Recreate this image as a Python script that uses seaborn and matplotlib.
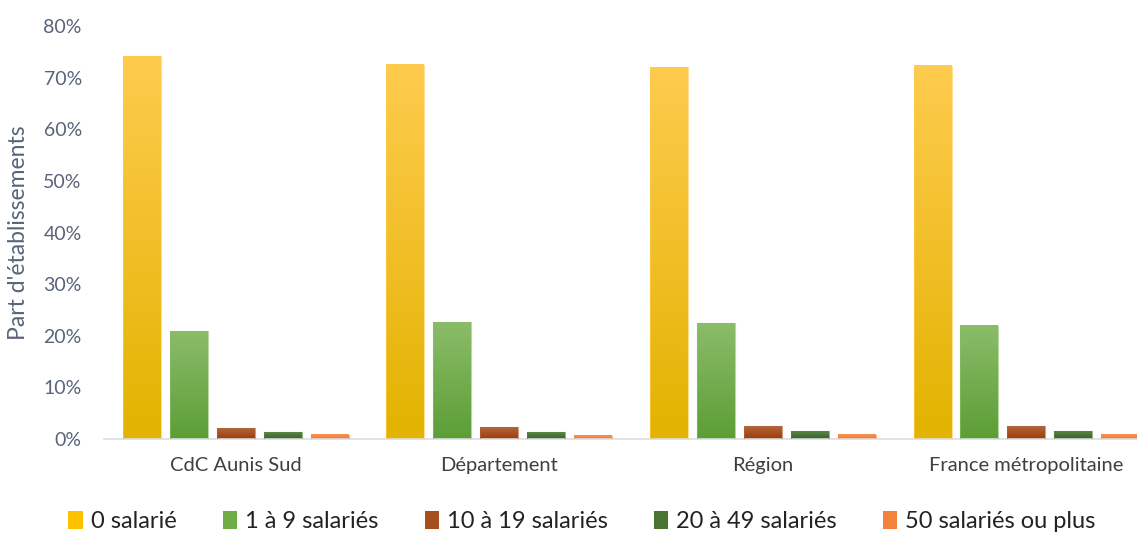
import matplotlib
matplotlib.use("Agg")
import matplotlib.pyplot as plt
import matplotlib.colors as mcolors
from matplotlib.patches import Patch
from matplotlib.ticker import PercentFormatter
import numpy as np
import pandas as pd
import seaborn as sns

# data (parts d'établissements, en fraction)
territoires = ["CdC Aunis Sud", "Département", "Région", "France métropolitaine"]
tranches = ["0 salarié", "1 à 9 salariés", "10 à 19 salariés", "20 à 49 salariés", "50 salariés ou plus"]
part_0 = [0.741, 0.725, 0.720, 0.723]
part_1_9 = [0.209, 0.226, 0.224, 0.219]
part_10_19 = [0.021, 0.023, 0.025, 0.025]
part_20_49 = [0.013, 0.013, 0.015, 0.015]
part_50 = [0.008, 0.006, 0.008, 0.008]

# gradient couleurs (haut, bas) par tranche
grad = {
    "0 salarié": ("#FFCB4E", "#E2B300"),
    "1 à 9 salariés": ("#8BBC69", "#5C9E36"),
    "10 à 19 salariés": ("#B3653C", "#9C3D08"),
    "20 à 49 salariés": ("#58844A", "#3C6224"),
    "50 salariés ou plus": ("#F79150", "#F07A30"),
}
legend_col = ["#FFC000", "#70AD47", "#A5501C", "#4A7432", "#F4823C"]

rows = []
for t, vals in zip(tranches, [part_0, part_1_9, part_10_19, part_20_49, part_50]):
    for terr, v in zip(territoires, vals):
        rows.append({"territoire": terr, "tranche": t, "part": v})
df = pd.DataFrame(rows)

sns.set_style("white")
plt.rcParams["font.family"] = ["Lato", "DejaVu Sans"]

fig = plt.figure(figsize=(11.37, 5.38), dpi=100)
ax = fig.add_axes([104 / 1137, 99 / 538, 1 - 104 / 1137, (439 - 26) / 538])

sns.barplot(data=df, x="territoire", y="part", hue="tranche", order=territoires,
            hue_order=tranches, width=0.89, gap=0.19, palette=legend_col,
            ax=ax, legend=False)

# remplissage en dégradé vertical
bars = [p for p in ax.patches]
for i, p in enumerate(bars):
    tr = tranches[i // len(territoires)]
    top, bot = grad[tr]
    cmap = mcolors.LinearSegmentedColormap.from_list("g", [bot, top])
    x0, y0 = p.get_x(), p.get_y()
    w, h = p.get_width(), p.get_height()
    ax.imshow(np.linspace(0, 1, 100).reshape(-1, 1), cmap=cmap, origin="lower",
              extent=[x0, x0 + w, y0, y0 + h], aspect="auto", zorder=2)
    p.set_facecolor("none")
    p.set_edgecolor(mcolors.to_rgba(top, 0.6))
    p.set_linewidth(0.8)
    p.set_zorder(3)

ax.set_xlim(-0.5, 3.42)
ax.set_ylim(0, 0.8)
ax.set_yticks(np.arange(0, 0.81, 0.1))
ax.yaxis.set_major_formatter(PercentFormatter(1.0, decimals=0))
ax.tick_params(axis="y", labelsize=14, colors="#59647A", length=0, pad=16)
ax.tick_params(axis="x", labelsize=14.5, colors="#404040", length=0, pad=13)
ax.set_xlabel("")
ax.set_ylabel("Part d'établissements", fontsize=16.5, color="#59647A")
for s in ["top", "right", "left"]:
    ax.spines[s].set_visible(False)
ax.spines["bottom"].set_color("#D9DEE6")
ax.spines["bottom"].set_linewidth(1.2)
ax.yaxis.set_label_coords(-0.073, 0.5)

handles = [Patch(facecolor=c, edgecolor="none") for c in legend_col]
fig.legend(handles, tranches, loc="center", bbox_to_anchor=(0.512, 0.03), ncol=5,
           frameon=False, fontsize=17, handlelength=0.6, handleheight=0.8,
           handletextpad=0.35, columnspacing=1.95, labelcolor="#222222")

fig.savefig("out.png", dpi=100)
